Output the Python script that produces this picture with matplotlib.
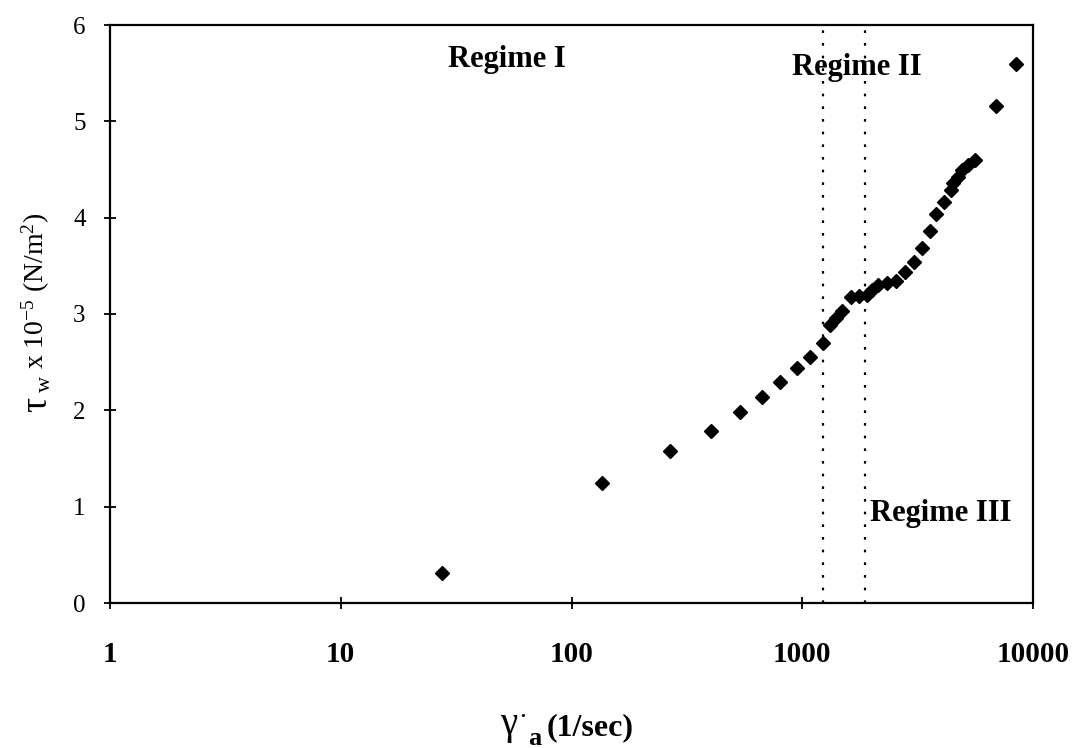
import numpy as np
import matplotlib.pyplot as plt

# apparent shear rate (1/sec) and wall shear stress x 1e-5 (N/m^2)
shear_rate = [27.6, 135, 266, 401, 536, 667, 798, 946, 1078, 1228,
              1317, 1398, 1483, 1623, 1758, 1905, 2003, 2127, 2328, 2547,
              2787, 3049, 3300, 3573, 3796, 4112, 4410, 4499, 4729, 4920,
              5227, 5601, 6905, 8450]
wall_stress = [0.31, 1.25, 1.58, 1.79, 1.98, 2.14, 2.29, 2.44, 2.55, 2.70,
               2.89, 2.96, 3.03, 3.18, 3.19, 3.20, 3.25, 3.30, 3.32, 3.34,
               3.44, 3.54, 3.68, 3.86, 4.04, 4.16, 4.29, 4.36, 4.42, 4.49,
               4.55, 4.60, 5.16, 5.59]
regime_bounds = [1230, 1870]
x_ticks = [1, 10, 100, 1000, 10000]
y_ticks = [0, 1, 2, 3, 4, 5, 6]

W, H = 1077, 748

plt.rcParams['font.family'] = ['Liberation Serif', 'DejaVu Serif']
plt.rcParams['mathtext.fontset'] = 'custom'
plt.rcParams['mathtext.rm'] = 'Liberation Serif'
plt.rcParams['mathtext.it'] = 'Liberation Serif:italic'
plt.rcParams['mathtext.bf'] = 'Liberation Serif:bold'


def px(x, y):
    # pixel position (from top-left) -> figure fraction
    return x / W, 1 - y / H


fig = plt.figure(figsize=(W / 100, H / 100), dpi=100)
ax = fig.add_axes([110 / W, 1 - 603 / H, 923 / W, 578 / H])

ax.plot(shear_rate, wall_stress, 'D', color='black', markersize=7.5)
for b in regime_bounds:
    ax.axvline(b, color='black', lw=1.6, dashes=(1.2, 4.5))

ax.set_xscale('log')
ax.set_xlim(1, 10000)
ax.set_ylim(0, 6)
ax.set_xticks(x_ticks)
ax.set_xticklabels([str(t) for t in x_ticks])
ax.minorticks_off()
ax.set_yticks(y_ticks)

for s in ax.spines.values():
    s.set_linewidth(1.6)
ax.tick_params(axis='y', direction='inout', length=9, width=1.3, pad=13,
               labelsize=18)
ax.tick_params(axis='x', direction='inout', length=9, width=1.3, pad=23,
               labelsize=21)
for lab in ax.get_xticklabels():
    lab.set_fontweight('bold')

fig.text(*px(507, 60), 'Regime I', fontsize=22, fontweight='bold',
         ha='center', va='center')
fig.text(*px(857, 67), 'Regime II', fontsize=22, fontweight='bold',
         ha='center', va='center')
fig.text(*px(941, 513), 'Regime III', fontsize=22, fontweight='bold',
         ha='center', va='center')

# y label: large tau, subscript w, then the rest of the text above it
fig.text(*px(37, 404), 'τ', fontsize=27, rotation=90,
         ha='center', va='center')
fig.text(*px(45, 384), 'w', fontsize=16, rotation=90,
         ha='center', va='center')
fig.text(*px(36, 369), r'x 10$^{-5}$ (N/m$^{2}$)',
         fontsize=20, rotation=90, ha='center', va='bottom')

# x label: gamma-dot with bold subscript a
fig.text(*px(509, 734), 'γ', fontsize=28, ha='center', va='baseline')
fig.text(*px(523, 717), '.', fontsize=14, fontweight='bold',
         ha='center', va='baseline')
fig.text(*px(528, 745), 'a', fontsize=19, fontweight='bold',
         ha='left', va='baseline')
fig.text(*px(547, 728), '(1/sec)', fontsize=23, fontweight='bold',
         ha='left', va='center')

fig.savefig('out.png', dpi=100)
